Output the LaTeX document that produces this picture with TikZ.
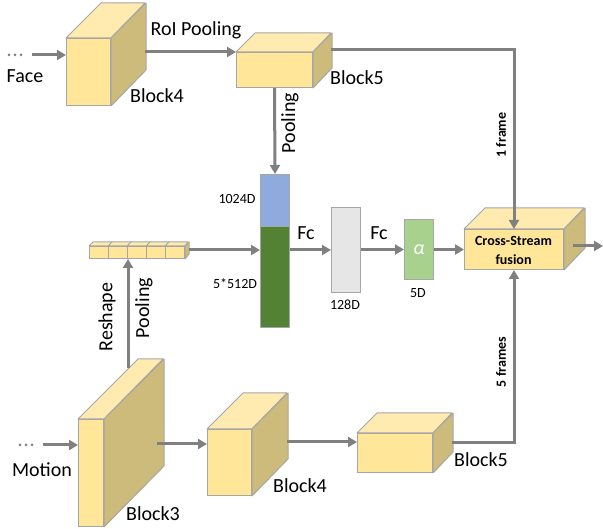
\documentclass[tikz,border=0pt]{standalone}
\usepackage{fontspec}
\setmainfont{Carlito}
\usetikzlibrary{arrows.meta,calc}
\definecolor{frontc}{HTML}{FFE699}
\definecolor{topc}{HTML}{FFEBB0}
\definecolor{sidec}{HTML}{CDBB7C}
\definecolor{edgec}{HTML}{A6A6A6}
\definecolor{arrc}{HTML}{808080}
\definecolor{bluec}{HTML}{8FAADC}
\definecolor{dgreen}{HTML}{548235}
\definecolor{lgreen}{HTML}{A9D18E}
\definecolor{lgray}{HTML}{E7E6E6}
\tikzset{
  front/.style={draw=edgec, fill=frontc, line width=1pt, inner sep=0pt, rectangle},
  topf/.style={draw=edgec, fill=topc, line width=1pt, line join=round},
  sidef/.style={draw=edgec, fill=sidec, line width=1pt, line join=round},
  arr/.style={draw=arrc, line width=3pt, -{Triangle[length=9pt,width=10pt]}},
  ln/.style={draw=arrc, line width=3pt},
  big/.style={font=\fontsize{20}{24}\selectfont, inner sep=0pt},
  small/.style={font=\fontsize{14}{16}\selectfont, inner sep=0pt},
  boldl/.style={font=\fontsize{14}{16}\selectfont\bfseries, inner sep=0pt},
  vbox/.style={draw=edgec, line width=1pt, inner sep=0pt, rectangle, anchor=north west},
  dotc/.style={circle, fill=arrc, draw=none, inner sep=0pt, minimum size=3pt}
}
% name, x, y (front top-left), w, h, d
\newcommand{\mycube}[6]{%
  \node[front, minimum width=#4pt, minimum height=#5pt, anchor=north west] (#1) at (#2,#3) {};
  \draw[topf] (#1.north west) -- ++(#6pt,#6pt) -- ++(#4pt,0pt) -- (#1.north east) -- cycle;
  \draw[sidef] (#1.north east) -- ++(#6pt,#6pt) -- ++(0pt,-#5pt) -- (#1.south east) -- cycle;
}
\begin{document}
\begin{tikzpicture}[x=1pt,y=-1pt]
\useasboundingbox (0,0) rectangle (603,529);

% ---- Face stream ----
\node[dotc] (fd1) at (9,55) {};
\node[dotc] (fd2) at (15,55) {};
\node[dotc] (fd3) at (21,55) {};
\node[big] (facelbl) at (25,76) {Face};
\mycube{fb4}{66}{38}{44}{67}{35}
\node[big] (fb4lbl) at (157,96) {Block4};
\mycube{fb5}{236}{52}{76}{35}{19}
\node[big] (fb5lbl) at (357,78) {Block5};
\coordinate (fdotsend) at (32,55);
\draw[arr] (fdotsend) -- (fdotsend -| fb4.west);
\coordinate (roistart) at (145,52);
\draw[arr] (roistart) -- (fb5.north west);
\node[big] (roilbl) at (196,30) {RoI Pooling};

% ---- feature boxes ----
\node[vbox, fill=bluec, minimum width=29pt, minimum height=52pt] (blue) at (260,174) {};
\node[vbox, fill=dgreen, minimum width=29pt, minimum height=101pt] (green) at (260,226) {};
\node[small] (l1024) at (237,199) {1024D};
\node[small] (l5512) at (235,284) {5*512D};
\draw[arr] (fb5.south) -- (blue.north);
\node[big, rotate=90] (poollbl) at (290,123) {Pooling};

% ---- vector ----
\mycube{v1}{89}{246}{19}{12}{4}
\mycube{v2}{108}{246}{19}{12}{4}
\mycube{v3}{127}{246}{19}{12}{4}
\mycube{v4}{146}{246}{19}{12}{4}
\mycube{v5}{165}{246}{19}{12}{4}
\coordinate (vecend) at (189,250);
\draw[arr] (vecend) -- (vecend -| green.west);

% ---- Fc chain ----
\node[vbox, fill=lgray, minimum width=29pt, minimum height=85pt] (gray) at (331,207) {};
\node[small] (l128) at (345,305) {128D};
\draw[arr] (gray.west -| green.east) -- (gray.west);
\node[big] (fc1) at (306,233) {Fc};
\node[vbox, fill=lgreen, minimum width=29pt, minimum height=60pt] (alpha) at (404,219) {};
\node[font=\fontsize{20}{24}\selectfont\itshape, text=white, inner sep=0pt] (alphalbl) at (alpha.center) {α};
\node[small] (l5d) at (418,293) {5D};
\draw[arr] (gray.east |- alpha.west) -- (alpha.west);
\node[big] (fc2) at (379,233) {Fc};

% ---- Cross-stream fusion ----
\mycube{cross}{464}{229}{99}{40}{21}
\node[boldl, align=center] (crosslbl) at (513.5,250) {Cross-Stream\\[3pt]fusion};
\draw[arr] (alpha.east) -- (alpha.east -| cross.west);
\coordinate (outstart) at (573,246);
\coordinate (outend) at (603,246);
\draw[arr] (outstart) -- (outend);

% 1 frame
\coordinate (b5top) at (331,50);
\draw[arr] (b5top) -- (b5top -| cross.north) -- (cross.north);
\node[boldl, rotate=90] (oneframe) at (501,135) {1 frame};

% ---- Motion stream ----
\node[dotc] (md1) at (20,445) {};
\node[dotc] (md2) at (26,445) {};
\node[dotc] (md3) at (32,445) {};
\node[big] (motionlbl) at (42,470) {Motion};
\mycube{mb3}{78}{419}{25}{107}{60}
\node[big] (mb3lbl) at (153,514) {Block3};
\mycube{mb4}{207}{429}{44}{66}{36}
\node[big] (mb4lbl) at (300,486) {Block4};
\mycube{mb5}{357}{433}{75}{39}{20}
\node[big] (mb5lbl) at (481,460) {Block5};
\coordinate (mdotsend) at (43,445);
\draw[arr] (mdotsend) -- (mdotsend -| mb3.west);
\coordinate (m3out) at (157,444);
\draw[arr] (m3out) -- (m3out -| mb4.west);
\coordinate (m4out) at (287,442);
\draw[arr] (m4out) -- (m4out -| mb5.west);
\coordinate (m5out) at (452,443);
\draw[arr] (m5out) -- (m5out -| cross.south) -- (cross.south);
\node[boldl, rotate=90] (fiveframes) at (501,362) {5 frames};

% reshape / pooling
\coordinate (m3top) at (128,368);
\draw[arr] (m3top) -- (m3top |- v3.south);
\node[big, rotate=90] (reshapelbl) at (107,317) {Reshape};
\node[big, rotate=90] (pool2lbl) at (144,308) {Pooling};
\end{tikzpicture}
\end{document}
